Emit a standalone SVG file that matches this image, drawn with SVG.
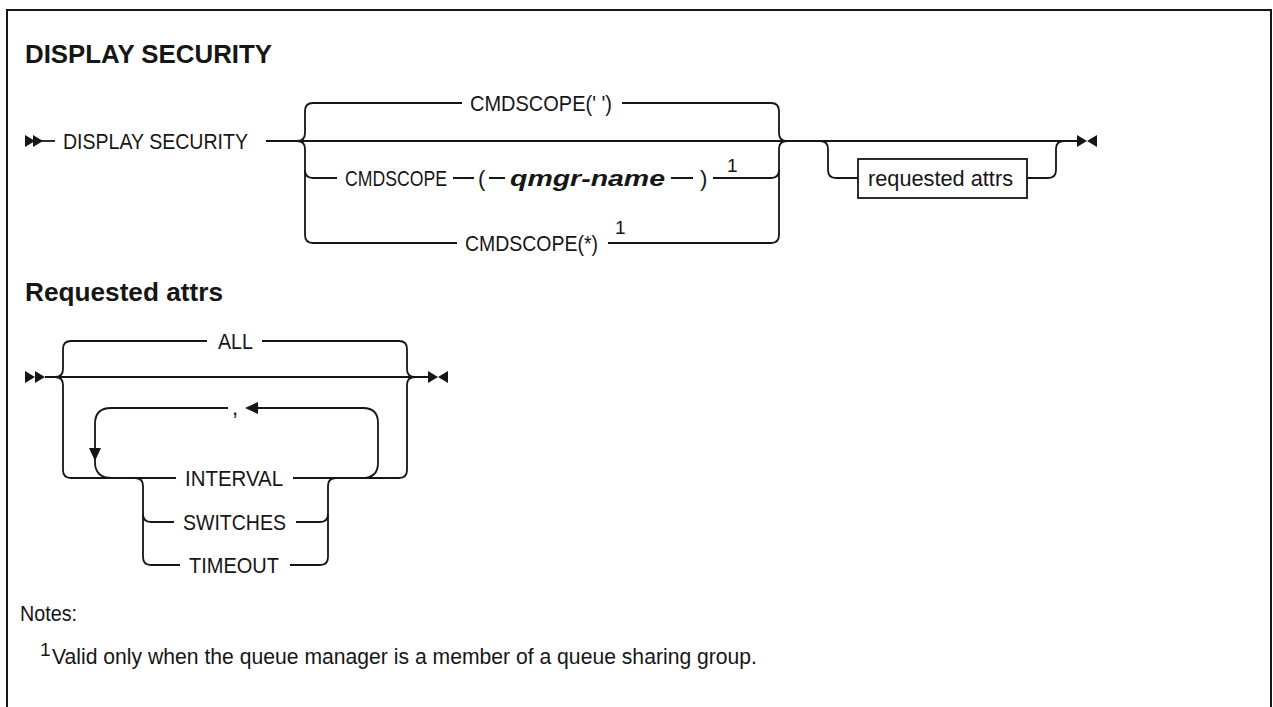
<svg xmlns="http://www.w3.org/2000/svg" width="1273" height="707" viewBox="0 0 1273 707">
<style>
.t{font-family:"Liberation Sans",Arial,sans-serif;font-size:22px;fill:#161616}
.b{font-family:"Liberation Sans",Arial,sans-serif;font-weight:bold;font-size:25px;fill:#161616}
.sup{font-family:"Liberation Sans",Arial,sans-serif;font-size:19px;fill:#161616}
.r{fill:none;stroke:#161616;stroke-width:1.8}
.m{fill:#161616;stroke:none}
</style>
<rect x="0" y="0" width="1273" height="707" fill="#fff"/>
<rect x="7" y="10" width="1264" height="720" fill="none" stroke="#161616" stroke-width="2"/>
<text class="b" x="25" y="63" textLength="247" lengthAdjust="spacingAndGlyphs">DISPLAY SECURITY</text>
<g id="connectors">
<path class="r" d="M41,141 H55"/>
<path class="r" d="M266,141 H1078"/>
<path class="r" d="M297,141 Q305,141 305,133 V111 Q305,103 313,103 H462"/>
<path class="r" d="M622,103 H771 Q779,103 779,111 V133 Q779,141 787,141"/>
<path class="r" d="M297,141 Q305,141 305,149 V235 Q305,243 313,243 H457"/>
<path class="r" d="M608,243 H771 Q779,243 779,235 V149 Q779,141 787,141"/>
<path class="r" d="M305,170 Q305,178 313,178 H337"/>
<path class="r" d="M453,178 H474 M489,178 H505 M671,178 H693 M713,178 H771 Q779,178 779,170"/>
<path class="r" d="M820,141 Q828,141 828,149 V170 Q828,178 836,178 H858"/>
<path class="r" d="M1027,178 H1048 Q1056,178 1056,170 V149 Q1056,141 1064,141"/>
<path class="r" d="M45,377 H428"/>
<path class="r" d="M55,377 Q63,377 63,369 V349 Q63,341 71,341 H207"/>
<path class="r" d="M262,341 H399 Q407,341 407,349 V369 Q407,377 415,377"/>
<path class="r" d="M55,377 Q63,377 63,385 V470 Q63,478 71,478 H176"/>
<path class="r" d="M293,478 H399 Q407,478 407,470 V385 Q407,377 415,377"/>
<path class="r" d="M112,478 Q95,478 95,462 V424 Q95,408 111,408 H228"/>
<path class="r" d="M255,408 H363 Q378,408 378,423 V463 Q378,478 362,478"/>
<path class="r" d="M135,478 Q143,478 143,486 V557 Q143,565 151,565 H180"/>
<path class="r" d="M143,514 Q143,522 151,522 H174"/>
<path class="r" d="M296,522 H320 Q328,522 328,514"/>
<path class="r" d="M290,565 H320 Q328,565 328,557 V486 Q328,478 336,478"/>
<polygon class="m" points="245,408 258,402 258,414"/>
<polygon class="m" points="95,461 89,448 101,448"/>
</g>
<g id="start1"><polygon class="m" points="25,135 35,141 25,147"/><polygon class="m" points="33,135 43,141 33,147"/></g>
<g id="end1"><polygon class="m" points="1077,135 1087,141 1077,147"/><polygon class="m" points="1097,135 1087,141 1097,147"/></g>
<g id="start2"><polygon class="m" points="25,371 35,377 25,383"/><polygon class="m" points="35,371 45,377 35,383"/></g>
<g id="end2"><polygon class="m" points="428,371 438,377 428,383"/><polygon class="m" points="448,371 438,377 448,383"/></g>
<g id="n-display"><text class="t" x="63" y="149" textLength="185" lengthAdjust="spacingAndGlyphs">DISPLAY SECURITY</text></g>
<g id="n-cmdscope-blank"><text class="t" x="470" y="111" textLength="142" lengthAdjust="spacingAndGlyphs">CMDSCOPE(' ')</text></g>
<g id="n-cmdscope-qmgr">
<text class="t" x="345" y="186" textLength="102" lengthAdjust="spacingAndGlyphs">CMDSCOPE</text>
<text class="t" x="478" y="186">(</text>
<text class="t" x="510" y="186" font-weight="bold" font-style="italic" textLength="155" lengthAdjust="spacingAndGlyphs">qmgr-name</text>
<text class="t" x="700" y="186">)</text>
<text class="sup" x="727" y="172">1</text>
</g>
<g id="n-cmdscope-star"><text class="t" x="465" y="251" textLength="133" lengthAdjust="spacingAndGlyphs">CMDSCOPE(*)</text><text class="sup" x="615" y="234">1</text></g>
<g id="n-requested"><rect x="858" y="159" width="169" height="39" fill="#fff" stroke="#161616" stroke-width="1.8"/><text class="t" x="868" y="186" textLength="145" lengthAdjust="spacingAndGlyphs">requested attrs</text></g>
<text class="b" x="25" y="301" textLength="198" lengthAdjust="spacingAndGlyphs">Requested attrs</text>
<g id="n-all"><text class="t" x="218" y="349" textLength="35" lengthAdjust="spacingAndGlyphs">ALL</text></g>
<g id="n-comma"><text class="t" x="232" y="415">,</text></g>
<g id="n-interval"><text class="t" x="185" y="486" textLength="98" lengthAdjust="spacingAndGlyphs">INTERVAL</text></g>
<g id="n-switches"><text class="t" x="183" y="530" textLength="103" lengthAdjust="spacingAndGlyphs">SWITCHES</text></g>
<g id="n-timeout"><text class="t" x="189" y="573" textLength="90" lengthAdjust="spacingAndGlyphs">TIMEOUT</text></g>
<g id="notes">
<text class="t" x="20" y="621" textLength="57" lengthAdjust="spacingAndGlyphs">Notes:</text>
<text class="sup" x="40" y="656" font-size="15">1</text>
<text class="t" x="52" y="664" textLength="705" lengthAdjust="spacingAndGlyphs">Valid only when the queue manager is a member of a queue sharing group.</text>
</g>
</svg>
